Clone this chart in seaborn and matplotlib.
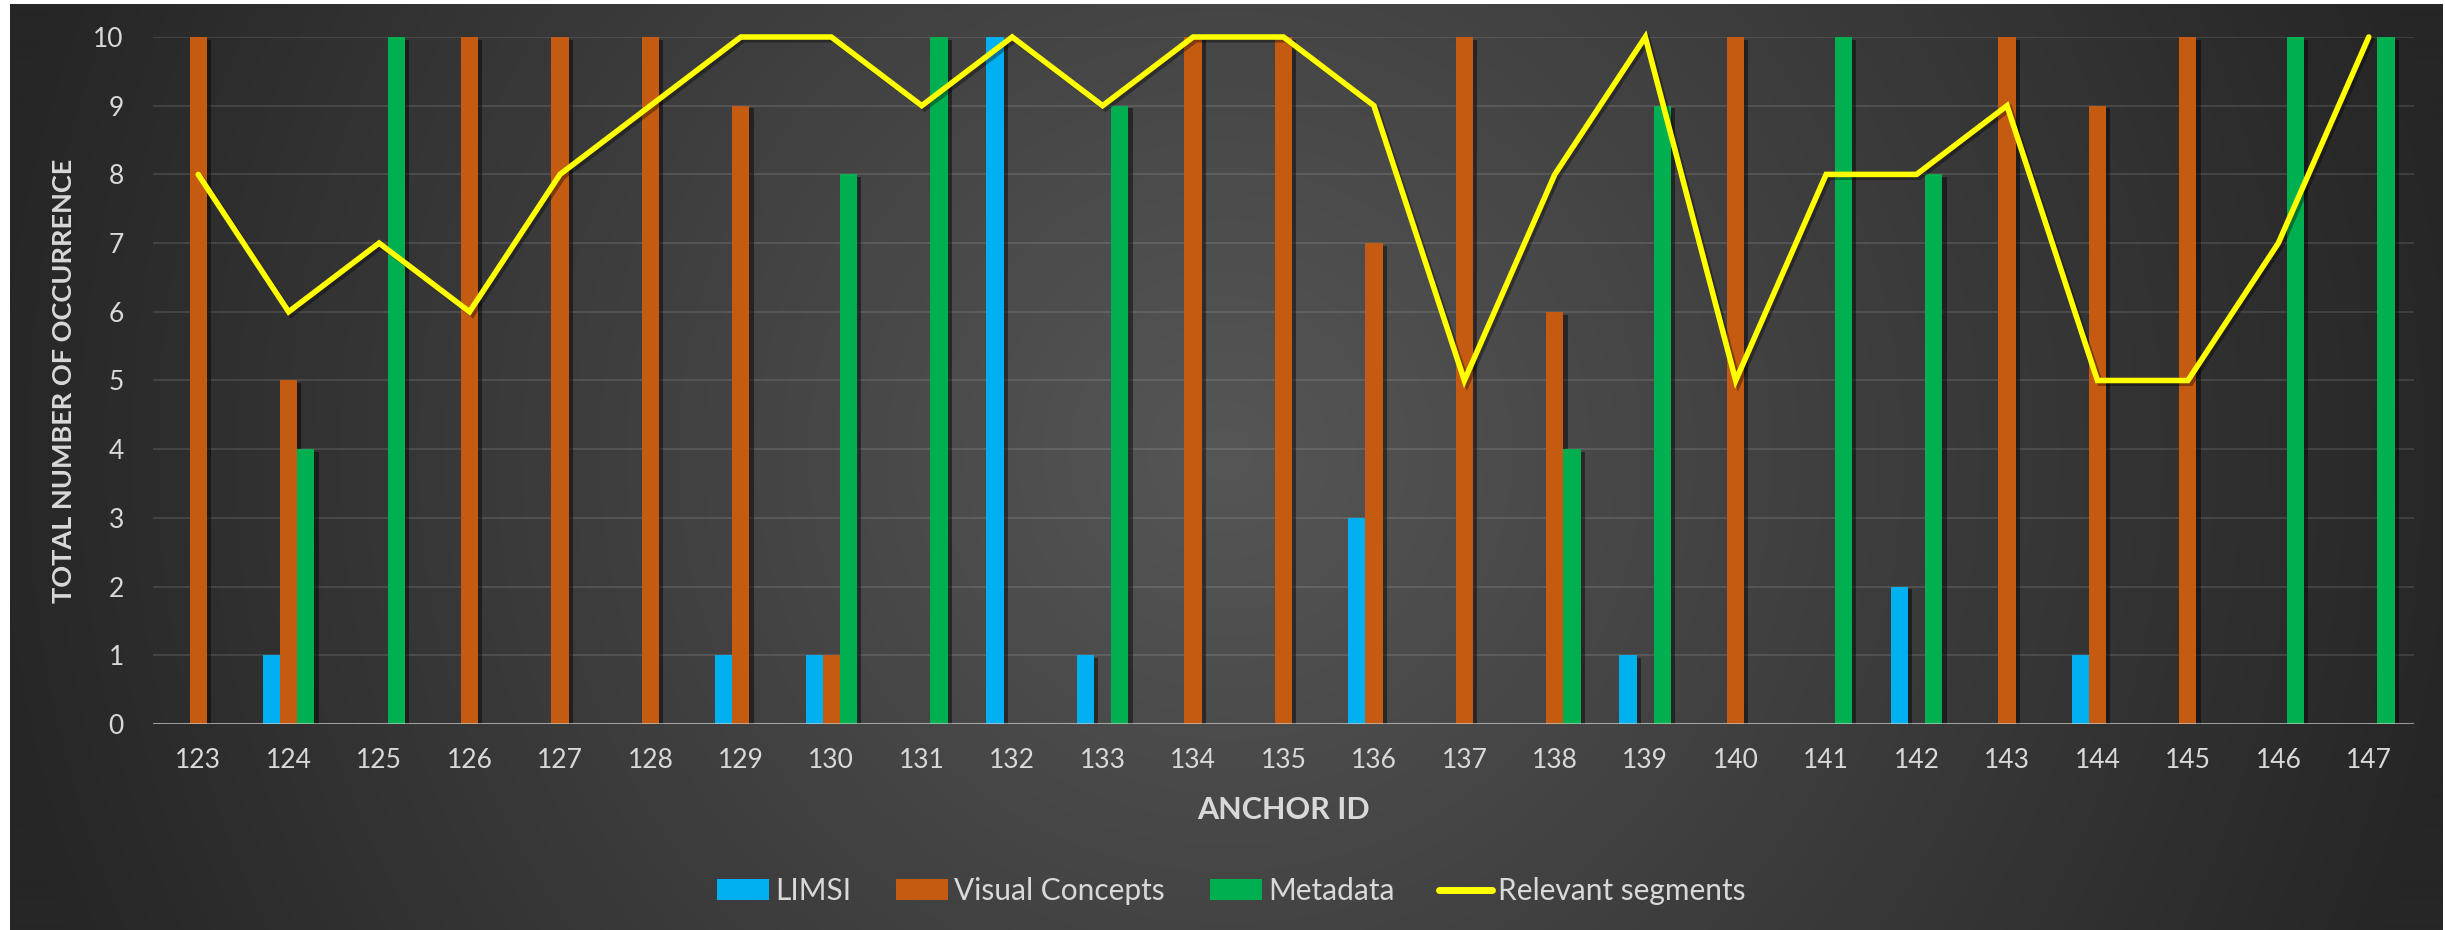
import numpy as np
import pandas as pd
import matplotlib
matplotlib.use("Agg")
import matplotlib.pyplot as plt
import matplotlib.patheffects as pe
from matplotlib.patches import Patch
from matplotlib.lines import Line2D
import seaborn as sns

# ---- data -------------------------------------------------------------
anchors = [str(a) for a in range(123, 148)]
limsi = [0, 1, 0, 0, 0, 0, 1, 1, 0, 10, 1, 0, 0, 3, 0, 0, 1, 0, 0, 2, 0, 1, 0, 0, 0]
visual_concepts = [10, 5, 0, 10, 10, 10, 9, 1, 0, 0, 0, 10, 10, 7, 10, 6, 0, 10, 0, 0, 10, 9, 10, 0, 0]
metadata = [0, 4, 10, 0, 0, 0, 0, 8, 10, 0, 9, 0, 0, 0, 0, 4, 9, 0, 10, 8, 0, 0, 0, 10, 10]
relevant_segments = [8, 6, 7, 6, 8, 9, 10, 10, 9, 10, 9, 10, 10, 9, 5, 8, 10, 5, 8, 8, 9, 5, 5, 7, 10]

series_names = ["LIMSI", "Visual Concepts", "Metadata"]
series_colors = ["#00B0F0", "#C55A11", "#00B050"]
line_name = "Relevant segments"
line_color = "#FFFF00"

bars = pd.DataFrame({
    "anchor": anchors * 3,
    "source": np.repeat(series_names, len(anchors)),
    "count": limsi + visual_concepts + metadata,
})
lines = pd.DataFrame({"anchor": anchors, "relevant": relevant_segments})

# ---- figure -----------------------------------------------------------
sns.set_theme(style="dark")
plt.rcParams["font.family"] = ["Lato", "DejaVu Sans"]
W, H = 2445, 930
fig = plt.figure(figsize=(W / 100, H / 100), dpi=100, facecolor="white")

# dark radial backdrop
bg = fig.add_axes([10 / W, 0, (2443 - 10) / W, (H - 4) / H], zorder=-10)
bg.set_axis_off()
yy, xx = np.mgrid[0:926, 0:2433]
r = np.sqrt(((xx - 1215) / 1250.0) ** 2 + ((yy - 450) / 1250.0) ** 2)
t = np.clip(r, 0, 1)
c0, c1 = 0x56 / 255, 0x26 / 255
img = c0 + (c1 - c0) * t
bg.imshow(np.dstack([img, img, img]), aspect="auto", interpolation="bilinear")

ax = fig.add_axes([153 / W, 1 - 724 / H, (2414 - 153) / W, (724 - 37) / H])
ax.set_facecolor("none")

sns.barplot(data=bars, x="anchor", y="count", hue="source", order=anchors,
            hue_order=series_names, palette=series_colors, saturation=1,
            width=0.57, gap=0, legend=False, ax=ax, zorder=3)
shadow = [pe.SimplePatchShadow(offset=(3, -2), shadow_rgbFace="black", alpha=0.45), pe.Normal()]
for p in ax.patches:
    p.set_edgecolor("none")
    p.set_path_effects(shadow)

sns.pointplot(data=lines, x="anchor", y="relevant", order=anchors, color=line_color,
              markers="", linestyles="-", errorbar=None, ax=ax, linewidth=4.0,
              zorder=6)
for ln in ax.lines:
    ln.set_clip_on(False)
    ln.set_solid_joinstyle("miter")
    ln.set_path_effects([pe.SimpleLineShadow(offset=(2, -2), shadow_color="black", alpha=0.35), pe.Normal()])

ax.set_xlim(-0.5, len(anchors) - 0.5)
ax.set_ylim(0, 10)
ax.set_yticks(range(0, 11))
ax.grid(axis="y", color="white", alpha=0.11, linewidth=1.5, zorder=0)
ax.grid(axis="x", visible=False)
ax.set_axisbelow(True)
ax.axhline(0, color="#d9d9d9", alpha=0.6, linewidth=2.2, zorder=5)
for s in ax.spines.values():
    s.set_visible(False)
ax.tick_params(axis="both", length=0, labelsize=19, colors="#d9d9d9")
ax.tick_params(axis="x", pad=17)
ax.tick_params(axis="y", pad=21)
ax.set_xlabel("")
ax.set_ylabel("")

fig.text(64 / W, 1 - 381 / H, "TOTAL NUMBER OF OCCURRENCE", rotation=90, ha="center",
         va="center", fontsize=19.5, fontweight="bold", color="#d9d9d9")
fig.text(1283 / W, 1 - 810 / H, "ANCHOR ID", ha="center", va="center", fontsize=22,
         fontweight="bold", color="#d9d9d9")

handles = [Patch(facecolor=c, edgecolor="none", label=n) for n, c in zip(series_names, series_colors)]
handles.append(Line2D([], [], color=line_color, linewidth=5, solid_capstyle="round", label=line_name))
leg = fig.legend(handles=handles, loc="center", bbox_to_anchor=(1231 / W, 1 - 891 / H), ncol=4,
                 frameon=False, fontsize=21.5, handlelength=1.75, handleheight=0.68,
                 handletextpad=0.2, columnspacing=1.5, labelcolor="#d9d9d9")

fig.savefig("out.png", dpi=100, facecolor="white")
